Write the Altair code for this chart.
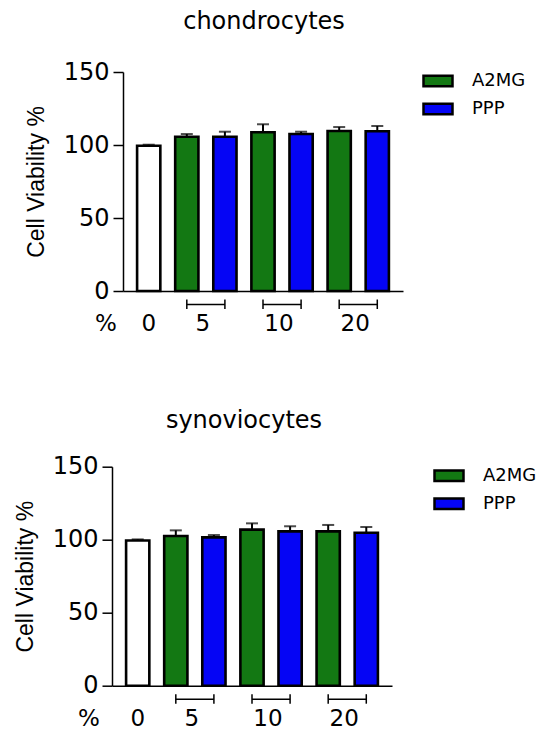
import altair as alt
import pandas as pd

# ---- data ----
categories = ["Control 0", "A2MG 5", "PPP 5", "A2MG 10", "PPP 10", "A2MG 20", "PPP 20"]
groups = ["Control", "A2MG", "PPP", "A2MG", "PPP", "A2MG", "PPP"]

chondro_mean = [99.5, 105.7, 105.7, 108.7, 107.5, 109.6, 109.4]
chondro_err = [0.7, 1.8, 3.4, 5.5, 1.6, 2.7, 3.6]

synovio_mean = [99.5, 102.5, 101.6, 106.9, 105.7, 105.7, 104.8]
synovio_err = [0.7, 3.9, 1.6, 4.3, 3.5, 4.4, 3.9]

bracket_start = ["A2MG 5", "A2MG 10", "A2MG 20"]
bracket_end = ["PPP 5", "PPP 10", "PPP 20"]
conc_labels = ["5", "10", "20"]
zero_label = ["0"]
zero_cat = ["Control 0"]

y_ticks = [0, 50, 100, 150]

GREEN = "#137813"
BLUE = "#0505F5"
W, H = 280, 219
FONT = "DejaVu Sans"


def panel(title, means, errs, legend_offset, pct_x, title_dx, title_offset):
    df = pd.DataFrame({
        "cat": categories,
        "group": groups,
        "mean": means,
        "top": [m + e for m, e in zip(means, errs)],
    })
    br = pd.DataFrame({"start": bracket_start, "end": bracket_end, "label": conc_labels})
    z = pd.DataFrame({"cat": zero_cat, "label": zero_label})

    xsc = alt.Scale(domain=categories, paddingInner=0.39, paddingOuter=0.37)
    xax = alt.Axis(labels=False, ticks=False, title=None, domainColor="black",
                   domainWidth=1.5, grid=False)
    yax = alt.Axis(values=y_ticks, title="Cell Viability %", titleFont="Liberation Sans",
                   titleFontSize=23, titleFontWeight="normal", titleColor="black",
                   titlePadding=15, labelFont=FONT, labelFontSize=24, labelColor="black",
                   labelPadding=4, tickSize=10, tickWidth=1.5, tickColor="black",
                   domainColor="black", domainWidth=1.5, grid=False)
    ysc = alt.Scale(domain=[0, 150], nice=False)

    bars = alt.Chart(df).mark_bar(stroke="black", strokeWidth=2.6).encode(
        x=alt.X("cat:N", scale=xsc, axis=xax, sort=categories),
        y=alt.Y("mean:Q", scale=ysc, axis=yax),
        fill=alt.Fill("group:N",
                      scale=alt.Scale(domain=["A2MG", "PPP", "Control"],
                                      range=[GREEN, BLUE, "white"]),
                      legend=alt.Legend(title=None, values=["A2MG", "PPP"],
                                        orient="none", legendX=W + legend_offset,
                                        legendY=-7,
                                        symbolType="M-1,-0.36H1V0.36H-1Z",
                                        symbolSize=841, symbolStrokeColor="black",
                                        symbolStrokeWidth=2.5, labelFont=FONT,
                                        labelFontSize=18, labelColor="black",
                                        labelOffset=18, rowPadding=1, padding=0)),
    )
    err = alt.Chart(df).mark_rule(color="black", strokeWidth=2).encode(
        x=alt.X("cat:N", sort=categories), y="mean:Q", y2="top:Q")
    cap = alt.Chart(df).mark_tick(color="black", thickness=2, size=12).encode(
        x=alt.X("cat:N", sort=categories), y="top:Q")

    bline = alt.Chart(br).mark_rule(color="black", strokeWidth=1.5).encode(
        x=alt.X("start:N", sort=categories), x2="end:N", y=alt.value(H + 13.5))
    bl = alt.Chart(br).mark_rule(color="black", strokeWidth=1.5).encode(
        x=alt.X("start:N", sort=categories), y=alt.value(H + 8.5), y2=alt.value(H + 18))
    brr = alt.Chart(br).mark_rule(color="black", strokeWidth=1.5).encode(
        x=alt.X("end:N", sort=categories), y=alt.value(H + 8.5), y2=alt.value(H + 18))

    lab = alt.Chart(br).mark_text(font=FONT, fontSize=23, color="black", dx=16,
                                  baseline="middle").encode(
        x=alt.X("start:N", sort=categories), y=alt.value(H + 33), text="label:N")
    lab0 = alt.Chart(z).mark_text(font=FONT, fontSize=23, color="black",
                                  baseline="middle").encode(
        x=alt.X("cat:N", sort=categories), y=alt.value(H + 33), text="label:N")
    pct = alt.Chart(z).mark_text(font=FONT, fontSize=23, color="black",
                                 baseline="middle").encode(
        x=alt.value(pct_x), y=alt.value(H + 33), text=alt.value("%"))

    return alt.layer(bars, err, cap, bline, bl, brr, lab, lab0, pct).properties(
        width=W, height=H,
        title=alt.TitleParams(title, font=FONT, fontSize=24, fontWeight="normal",
                              color="black", anchor="middle", frame="group",
                              dx=title_dx, offset=title_offset),
    )


top = panel("chondrocytes", chondro_mean, chondro_err, 19, -17, 1, 26)
bottom = panel("synoviocytes", synovio_mean, synovio_err, 41, -23, -8, 22)

chart = alt.vconcat(top, bottom, spacing=72.7, center=True).resolve_scale(
    fill="independent"
).resolve_legend(fill="independent").properties(
    padding={"left": 6, "top": 2, "right": 2, "bottom": 2},
    background="white",
).configure_view(strokeWidth=0)

chart.save("out.html", embed_options={"renderer": "svg", "actions": False})
